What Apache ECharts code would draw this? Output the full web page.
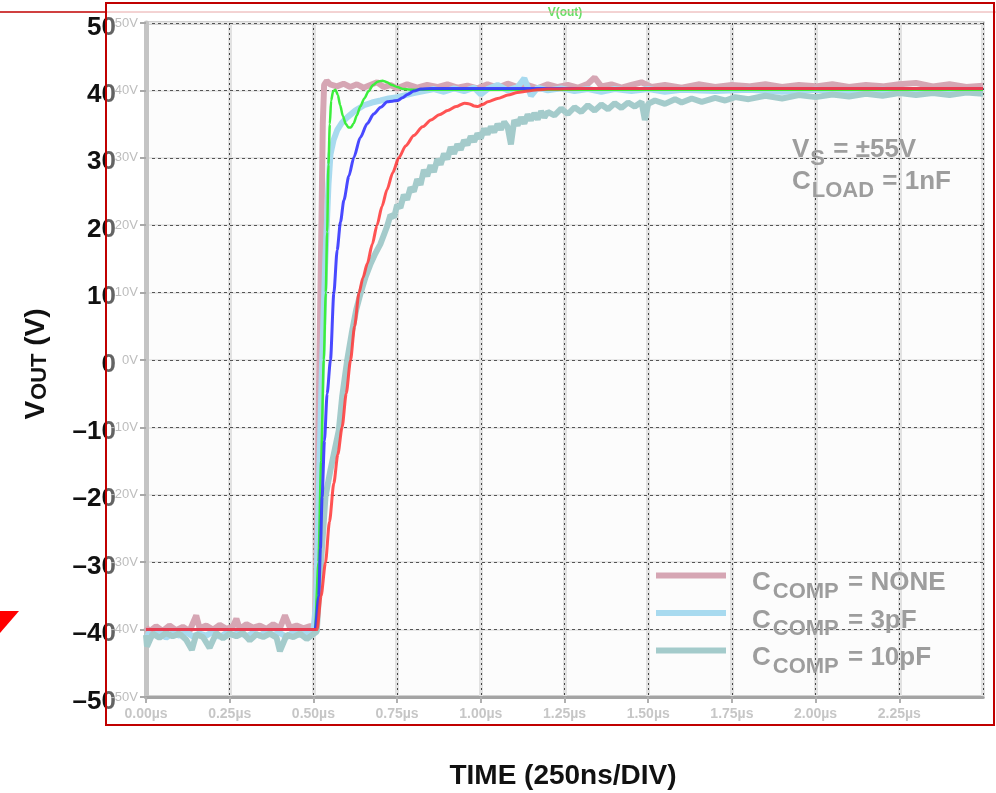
<!DOCTYPE html>
<html>
<head>
<meta charset="utf-8">
<script src="https://cdn.jsdelivr.net/npm/echarts@6/dist/echarts.min.js"></script>
<style>
html,body{margin:0;padding:0;background:#fff;}
#chart{width:996px;height:793px;}
</style>
</head>
<body>
<div id="chart"></div>
<script>
// ---- tick labels ----
const xTickLabels = ['0.00µs','0.25µs','0.50µs','0.75µs','1.00µs','1.25µs','1.50µs','1.75µs','2.00µs','2.25µs',''];
const ySmallLabels = ['-50V','-40V','-30V','-20V','-10V','0V','10V','20V','30V','40V','50V'];
const yBigLabels = ['–50','–40','–30','–20','–10','0','10','20','30','40','50'];

// ---- legend ----
const legendNames = ['CCOMP = NONE','CCOMP = 3pF','CCOMP = 10pF'];
const legendMain = ['C','C','C'];
const legendSub = ['COMP','COMP','COMP'];
const legendValue = ['NONE','3pF','10pF'];

// ---- measured traces [time µs, volts] ----
const noneData = [[0,-39.6],[0.01,-40.3],[0.03,-39.5],[0.05,-40.2],[0.07,-39.4],[0.09,-40.1],[0.11,-39.6],[0.13,-40.2],[0.15,-37.9],[0.16,-39.8],[0.18,-39.4],[0.2,-40.0],[0.22,-39.3],[0.24,-39.9],[0.26,-39.5],[0.27,-38.4],[0.28,-39.9],[0.30,-39.2],[0.32,-39.7],[0.34,-39.4],[0.36,-39.9],[0.38,-39.2],[0.40,-39.8],[0.415,-37.9],[0.43,-39.7],[0.45,-39.4],[0.47,-39.8],[0.49,-39.5],[0.505,-39.5],[0.512,-20],[0.518,0],[0.524,20],[0.528,35],[0.532,40.8],[0.54,41.4],[0.55,40.9],[0.57,40.6],[0.59,41.0],[0.61,40.5],[0.63,40.9],[0.65,40.4],[0.67,40.8],[0.69,41.2],[0.71,40.5],[0.73,40.8],[0.75,40.3],[0.78,40.9],[0.81,40.4],[0.84,40.8],[0.87,40.5],[0.90,40.9],[0.93,40.4],[0.96,40.7],[0.99,40.3],[1.02,40.9],[1.05,40.4],[1.08,41.0],[1.11,40.5],[1.14,40.8],[1.17,40.3],[1.20,40.9],[1.23,40.5],[1.26,40.8],[1.29,40.4],[1.32,41.0],[1.34,41.9],[1.36,40.6],[1.39,40.9],[1.42,40.4],[1.45,40.8],[1.48,41.2],[1.51,40.5],[1.55,40.8],[1.6,40.4],[1.65,40.9],[1.7,40.5],[1.75,40.8],[1.8,40.6],[1.85,40.9],[1.9,40.5],[1.95,40.8],[2.0,40.6],[2.05,40.9],[2.1,40.5],[2.15,40.8],[2.2,40.6],[2.25,40.9],[2.3,41.1],[2.35,40.6],[2.4,40.9],[2.45,40.5],[2.5,40.7]];

const c3Data = [[0,-40.4],[0.02,-40.9],[0.04,-40.3],[0.06,-41.2],[0.08,-40.5],[0.10,-40.9],[0.12,-40.4],[0.14,-41.0],[0.16,-40.6],[0.18,-40.9],[0.20,-40.3],[0.22,-41.1],[0.24,-40.5],[0.26,-40.8],[0.28,-40.4],[0.30,-41.0],[0.32,-40.5],[0.34,-40.9],[0.36,-40.3],[0.38,-40.8],[0.40,-40.5],[0.42,-41.1],[0.44,-40.4],[0.46,-40.8],[0.48,-40.5],[0.50,-40.2],[0.508,-36],[0.515,-22],[0.525,-2],[0.535,14],[0.545,26],[0.551,30.5],[0.56,32.6],[0.571,34.1],[0.585,35.2],[0.601,36.0],[0.625,37.0],[0.651,37.8],[0.675,38.2],[0.701,38.5],[0.725,38.8],[0.751,39.0],[0.775,39.3],[0.80,39.6],[0.83,39.9],[0.86,40.2],[0.89,39.8],[0.92,40.3],[0.95,39.9],[0.98,40.4],[1.0,39.4],[1.02,40.2],[1.05,40.8],[1.08,40.0],[1.11,40.5],[1.13,41.8],[1.15,39.2],[1.17,40.4],[1.2,40.0],[1.24,40.3],[1.28,39.9],[1.32,40.2],[1.36,39.8],[1.4,40.2],[1.45,39.9],[1.5,40.2],[1.55,39.8],[1.6,40.1],[1.7,39.9],[1.8,40.1],[1.9,39.8],[2.0,40.1],[2.1,39.9],[2.2,40.1],[2.3,39.8],[2.4,40.0],[2.5,39.9]];

const c10Data = [[0,-40.8],[0.003,-42.5],[0.02,-40.6],[0.04,-41.2],[0.06,-40.5],[0.08,-41.0],[0.10,-40.6],[0.12,-41.5],[0.137,-43.0],[0.15,-40.7],[0.17,-41.1],[0.19,-42.7],[0.21,-40.5],[0.23,-41.3],[0.25,-40.6],[0.27,-41.0],[0.29,-40.5],[0.31,-41.6],[0.33,-40.7],[0.35,-41.1],[0.37,-40.6],[0.39,-41.2],[0.40,-43.2],[0.42,-40.8],[0.44,-41.1],[0.46,-40.6],[0.48,-41.4],[0.51,-40.3],[0.52,-32],[0.536,-20.3],[0.551,-16.3],[0.565,-13],[0.576,-10.4],[0.586,-5.4],[0.601,0],[0.616,4.4],[0.628,7.5],[0.641,9.9],[0.655,12.2],[0.671,14.3],[0.685,15.8],[0.70,17.2],[0.72,19.8],[0.73,21.5],[0.741,21.2],[0.75,23.0],[0.76,22.6],[0.77,24.5],[0.78,23.8],[0.79,25.6],[0.80,25.0],[0.81,26.8],[0.82,26.0],[0.83,28.2],[0.84,27.3],[0.85,28.9],[0.86,27.9],[0.87,29.8],[0.88,29.0],[0.89,30.6],[0.90,29.8],[0.91,31.6],[0.92,30.6],[0.93,32.0],[0.94,31.2],[0.95,32.6],[0.96,31.9],[0.97,33.2],[0.98,32.4],[0.99,33.6],[1.0,32.9],[1.01,34.3],[1.02,33.5],[1.03,34.6],[1.04,33.8],[1.05,35.0],[1.06,34.2],[1.07,35.3],[1.08,34.6],[1.09,32.0],[1.1,35.6],[1.11,34.8],[1.12,36.0],[1.13,35.1],[1.14,36.4],[1.15,35.6],[1.16,36.6],[1.17,35.7],[1.18,36.9],[1.19,36.0],[1.2,36.8],[1.22,36.3],[1.24,37.3],[1.26,36.5],[1.28,37.5],[1.30,36.8],[1.32,37.8],[1.34,37.0],[1.36,37.9],[1.38,37.2],[1.40,38.1],[1.42,37.4],[1.44,38.2],[1.46,37.6],[1.48,38.3],[1.49,35.6],[1.5,38.0],[1.52,38.5],[1.55,38.0],[1.58,38.7],[1.6,38.2],[1.63,38.8],[1.66,38.3],[1.7,38.9],[1.73,38.5],[1.76,39.0],[1.8,38.7],[1.85,39.2],[1.9,38.8],[1.95,39.3],[2.0,39.0],[2.05,39.4],[2.1,39.1],[2.15,39.5],[2.2,39.2],[2.25,39.6],[2.3,39.3],[2.35,39.6],[2.4,39.3],[2.45,39.7],[2.5,39.5]];

// ---- simulated traces ----
const simGreen = [[0,-40],[0.505,-40],[0.515,-30],[0.523,-15],[0.531,0],[0.537,10],[0.541,19],[0.545,29],[0.549,35],[0.553,38.5],[0.559,39.9],[0.566,40.1],[0.573,39.3],[0.58,37.8],[0.588,36.2],[0.597,35.0],[0.605,34.5],[0.612,34.5],[0.62,35.1],[0.63,36.3],[0.64,37.6],[0.652,38.8],[0.665,39.9],[0.678,40.8],[0.692,41.3],[0.706,41.45],[0.72,41.2],[0.735,40.8],[0.75,40.5],[0.77,40.2],[0.8,40.1],[0.85,40.1],[2.5,40.1]];
const simBlue = [[0,-40],[0.505,-40],[0.516,-35],[0.521,-28],[0.526,-20.3],[0.533,-12],[0.541,-5],[0.551,0],[0.561,9.9],[0.571,16.3],[0.581,20.5],[0.591,23.7],[0.606,27.3],[0.621,30.1],[0.64,33.0],[0.661,35.1],[0.68,36.5],[0.701,37.5],[0.721,38.3],[0.736,38.4],[0.751,38.5],[0.766,38.9],[0.781,39.4],[0.8,39.9],[0.821,40.2],[0.85,40.3],[0.9,40.3],[2.5,40.3]];
const simRed = [[0,-40],[0.511,-40],[0.523,-35],[0.536,-30.1],[0.548,-24],[0.561,-18.3],[0.573,-14],[0.586,-9.9],[0.598,-5],[0.611,0],[0.623,5],[0.636,9.9],[0.648,12.2],[0.661,14.3],[0.676,17.2],[0.69,20],[0.705,22.8],[0.72,25.3],[0.737,27.8],[0.755,30],[0.776,31.8],[0.80,33.3],[0.826,34.6],[0.851,35.6],[0.876,36.4],[0.901,37.0],[0.926,37.6],[0.951,38.1],[0.966,38.0],[0.98,37.7],[0.991,37.6],[1.005,37.9],[1.021,38.3],[1.05,38.8],[1.081,39.3],[1.11,39.7],[1.141,39.9],[1.17,40.1],[1.2,40.2],[1.3,40.3],[2.5,40.3]];

const FONT = "'Liberation Sans', Arial, sans-serif";
const chart = echarts.init(document.getElementById('chart'), null, {renderer:'canvas'});

const legendRich = {
  c: {color:'#9d9d9d', fontSize:26, fontWeight:'bold', fontFamily:FONT, lineHeight:26, verticalAlign:'top', padding:[7.5,0,0,21]},
  s: {color:'#9d9d9d', fontSize:22, fontWeight:'bold', fontFamily:FONT, lineHeight:22, verticalAlign:'top', padding:[18,2,0,2]},
  m: {color:'#9d9d9d', fontSize:26, fontWeight:'bold', fontFamily:FONT, lineHeight:26, verticalAlign:'top', padding:[7.5,0,0,0]}
};

const measuredColors = ['#d6a6b4','#a8daef','#a4cbcb'];
const measuredData = [noneData, c3Data, c10Data];

const series = [];
for (let i = 0; i < 3; i++) {
  series.push({
    type:'line', name:legendNames[i], data:measuredData[i], showSymbol:false, symbol:'none',
    silent:true, z:2,
    lineStyle:{color:measuredColors[i], width:6}, itemStyle:{color:measuredColors[i]}
  });
}
series.push({type:'line', name:'simGreen', data:simGreen, showSymbol:false, symbol:'none', silent:true, z:3,
  smooth:0.25, smoothMonotone:'x', lineStyle:{color:'#3cee3c', width:2.5}});
series.push({type:'line', name:'simBlue', data:simBlue, showSymbol:false, symbol:'none', silent:true, z:4,
  smooth:0.25, smoothMonotone:'x', lineStyle:{color:'#3535ff', width:3, opacity:0.9}});
series.push({type:'line', name:'simRed', data:simRed, showSymbol:false, symbol:'none', silent:true, z:5,
  smooth:0.25, smoothMonotone:'x', lineStyle:{color:'#ff3b3b', width:3, opacity:0.88}});

const option = {
  animation:false,
  backgroundColor:'#ffffff',
  grid:{left:146, right:13, top:23, bottom:96, show:true, backgroundColor:'#fcfcfc', borderColor:'#a4a4a4', borderWidth:3},
  legend:{
    data:legendNames, orient:'vertical', left:651, top:557.5, itemWidth:70, itemHeight:6, itemGap:-2.5,
    icon:'rect', selectedMode:false,
    formatter:function(name){
      const i = legendNames.indexOf(name);
      return '{c|' + legendMain[i] + '}{s|' + legendSub[i] + '}{m| = ' + legendValue[i] + '}';
    },
    textStyle:{rich:legendRich}
  },
  xAxis:[
    {type:'value', min:0, max:2.5, interval:0.25, z:1,
      axisLine:{show:true, onZero:false, lineStyle:{color:'#a4a4a4', width:3}},
      axisTick:{show:true, length:6, lineStyle:{color:'#b0b0b0', width:2}},
      axisLabel:{margin:10, color:'#c6c6c6', fontSize:14, fontWeight:'bold', fontFamily:FONT, showMaxLabel:false,
        formatter:function(v, i){ return xTickLabels[i] || ''; }},
      splitLine:{show:true, lineStyle:{color:'#444', width:1, type:[2,3]}}},
    {type:'value', min:0, max:2.5, interval:0.25, z:0, position:'bottom',
      axisLine:{show:false}, axisTick:{show:false}, axisLabel:{show:false},
      splitLine:{show:true, lineStyle:{color:'#e2e2e2', width:4}}}
  ],
  yAxis:[
    {type:'value', min:-50, max:50, interval:10, z:1, position:'left',
      axisLine:{show:true, onZero:false, lineStyle:{color:'#c4c4c4', width:5}},
      axisTick:{show:true, length:6, lineStyle:{color:'#a8a8a8', width:2}},
      axisLabel:{margin:8, color:'#bdbdbd', fontSize:13, fontFamily:FONT,
        formatter:function(v, i){ return ySmallLabels[i]; }},
      splitLine:{show:true, lineStyle:{color:'#555', width:1, type:[3,3]}}},
    {type:'value', min:-50, max:50, interval:10, z:0, position:'left', offset:0,
      axisLine:{show:false}, axisTick:{show:false}, splitLine:{show:false},
      axisLabel:{margin:30, color:'#111', fontSize:26, fontWeight:'bold', fontFamily:FONT,
        verticalAlign:'top', lineHeight:9,
        formatter:function(v, i){ return yBigLabels[i]; }}},
    {type:'value', min:-50, max:50, interval:10, z:0, position:'left', offset:0,
      axisLine:{show:false}, axisTick:{show:false}, axisLabel:{show:false},
      splitLine:{show:true, lineStyle:{color:'#e8e8e8', width:2}}}
  ],
  series:series,
  graphic:{elements:[
    {type:'rect', z:1, silent:true, shape:{x:106, y:10, width:14, height:700}, style:{fill:'rgba(255,255,255,0.35)'}},
    {type:'text', z:10, silent:true, x:37, y:364, rotation:Math.PI/2,
      style:{text:'{m|V}{s|OUT}{m| (V)}', align:'center', verticalAlign:'middle',
        rich:{m:{fontSize:28, fontWeight:'bold', fontFamily:FONT, fill:'#111', lineHeight:30, verticalAlign:'top'},
              s:{fontSize:22, fontWeight:'bold', fontFamily:FONT, fill:'#111', lineHeight:23, verticalAlign:'top', padding:[7,0,0,1]}}}},
    {type:'text', z:10, silent:true, x:563, y:776,
      style:{text:'TIME (250ns/DIV)', align:'center', verticalAlign:'middle', font:"bold 28px " + FONT, fill:'#111'}},
    {type:'text', z:10, silent:true, x:792, y:137,
      style:{text:'{m|V}{s|S}{m| = ±55V}\n{m|C}{s|LOAD}{m| = 1nF}', align:'left', verticalAlign:'top',
        rich:{m:{fontSize:26, fontWeight:'bold', fontFamily:FONT, fill:'#9d9d9d', lineHeight:32, verticalAlign:'top'},
              s:{fontSize:22, fontWeight:'bold', fontFamily:FONT, fill:'#9d9d9d', lineHeight:22, verticalAlign:'top', padding:[11,1,0,1]}}}},
    {type:'text', z:10, silent:true, x:565, y:13,
      style:{text:'V(out)', align:'center', verticalAlign:'middle', font:"bold 12px " + FONT, fill:'#66e066'}},
    {type:'line', z:100, silent:true, shape:{x1:0, y1:12, x2:106, y2:12}, style:{stroke:'#c00000', lineWidth:1.5}},
    {type:'line', z:100, silent:true, shape:{x1:106, y1:12, x2:996, y2:12}, style:{stroke:'#e8a6a6', lineWidth:1}},
    {type:'rect', z:100, silent:true, shape:{x:106, y:3, width:888, height:722}, style:{fill:'none', stroke:'#c00000', lineWidth:2}},
    {type:'polygon', z:100, silent:true, shape:{points:[[0,611],[19,611],[0,633]]}, style:{fill:'#ff0000'}}
  ]}
};
chart.setOption(option);
</script>
</body>
</html>
